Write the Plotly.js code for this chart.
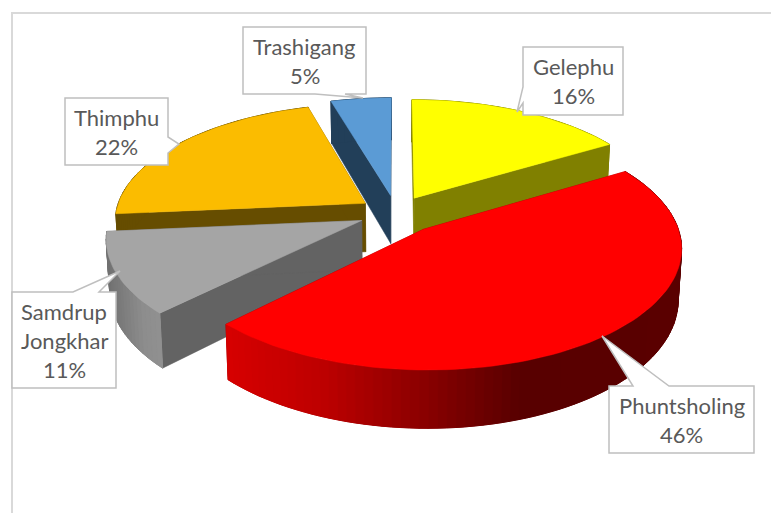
<!DOCTYPE html>
<html><head><meta charset="utf-8">
<script src="https://cdn.plot.ly/plotly-3.0.1.min.js"></script>
<style>html,body{margin:0;padding:0;background:#fff}#c{width:771px;height:513px}</style></head>
<body><div id="c"></div>
<script>
// data, clockwise from the top of the pie (labels show them rounded)
const categories = ['Gelephu', 'Phuntsholing', 'Samdrup Jongkhar', 'Thimphu', 'Trashigang'];
const values = [16.4, 46.1, 11.05, 21.95, 4.5];
const labelLines = [['Gelephu'], ['Phuntsholing'], ['Samdrup', 'Jongkhar'], ['Thimphu'], ['Trashigang']];
const topColors = ['#ffff00', '#ff0000', '#a5a5a5', '#fbbc00', '#5b9bd5'];
const wallColors = ['#808000', '#8a0000', '#636363', '#664d00', '#223f59'];
const explosion = [0.15, 0.175, 0.15, 0.15, 0.155];
const drawOrder = [4, 0, 3, 2, 1];
// rim shading: colour stops along the screen x for the slices that show a shaded rim
const rimStops = {
  1: [[228, [214, 0, 0]], [320, [190, 0, 0]], [400, [150, 0, 0]], [520, [88, 0, 0]], [690, [90, 0, 0]]],
  2: [[105, [112, 112, 112]], [140, [140, 140, 140]], [165, [146, 146, 146]]]
};

// projection of the tilted pie
const CX = 396, CY = 213, F = 250, G = 116, P = 0.14, H = 49;
function proj(X, Y, z) {
  const s = 1 / (1 + P * Y);
  const k = 1 - 0.012 * z;
  return [CX + F * X * s * k, CY - G * Y * s + H * z * s];
}
function poly(pts, color, w) {
  const xs = pts.map(p => p[0]), ys = pts.map(p => p[1]);
  xs.push(xs[0]); ys.push(ys[0]);
  return {x: xs, y: ys, type: 'scatter', mode: 'lines', fill: 'toself', fillcolor: color,
    line: {color: color, width: w === undefined ? 0.5 : w}, hoverinfo: 'skip', showlegend: false};
}
function rimColor(i, x) {
  const st = rimStops[i];
  if (!st) return wallColors[i];
  if (x <= st[0][0]) return 'rgb(' + st[0][1].join(',') + ')';
  for (let k = 1; k < st.length; k++) {
    if (x <= st[k][0]) {
      const t = (x - st[k - 1][0]) / (st[k][0] - st[k - 1][0]);
      return 'rgb(' + st[k][1].map((c, j) => Math.round(st[k - 1][1][j] + (c - st[k - 1][1][j]) * t)).join(',') + ')';
    }
  }
  return 'rgb(' + st[st.length - 1][1].join(',') + ')';
}
const total = values.reduce((a, b) => a + b, 0);
const starts = [];
values.reduce((acc, v, i) => { starts[i] = acc; return acc + v; }, 0);
const traces = [];
drawOrder.forEach(i => {
  const a0 = starts[i] / total * 2 * Math.PI, a1 = (starts[i] + values[i]) / total * 2 * Math.PI;
  const mid = (a0 + a1) / 2;
  const ax = explosion[i] * Math.sin(mid), ay = explosion[i] * Math.cos(mid);
  const n = Math.max(8, Math.round(values[i] * 2));
  const arc = [];
  for (let k = 0; k <= n; k++) {
    const t = a0 + (a1 - a0) * k / n;
    arc.push([ax + Math.sin(t), ay + Math.cos(t)]);
  }
  // radial walls
  [arc[0], arc[n]].forEach(e => {
    traces.push(poly([proj(ax, ay, 0), proj(e[0], e[1], 0), proj(e[0], e[1], 1), proj(ax, ay, 1)], wallColors[i]));
  });
  // outer rim: one solid base, then shaded bands that overlap their neighbours
  const base = arc.map(p => proj(p[0], p[1], 0)).concat(arc.slice().reverse().map(p => proj(p[0], p[1], 1)));
  traces.push(poly(base, rimColor(i, (base[0][0] + base[n][0]) / 2)));
  for (let k = 0; k < n; k++) {
    const p = arc[k], q = arc[k + 1];
    const a = proj(p[0], p[1], 0), b = proj(q[0], q[1], 0), c = proj(q[0], q[1], 1), d = proj(p[0], p[1], 1);
    traces.push(poly([a, b, c, d], rimColor(i, (a[0] + b[0]) / 2), 1));
  }
  // top face
  traces.push(poly([[ax, ay]].concat(arc).map(p => proj(p[0], p[1], 0)), topColors[i]));
});

// callouts: box [x0,y0,x1,y1] with a pointer
const BORDER = '#bfbfbf';
const callouts = [
  {i: 0, box: [523, 47, 623, 115], path: 'M523,47 L623,47 L623,115 L523,115 L523,103 L517,112 L523,87 Z'},
  {i: 1, box: [609, 386, 754, 453], path: 'M609,386 L633,386 L602,336 L669,386 L754,386 L754,453 L609,453 Z'},
  {i: 2, box: [12, 292, 116, 388], path: 'M12,292 L73,292 L120,271 L99,292 L116,292 L116,388 L12,388 Z'},
  {i: 3, box: [65, 98, 168, 165], path: 'M65,98 L168,98 L168,137 L179,144 L168,153 L168,165 L65,165 Z'},
  {i: 4, box: [243, 27, 366, 94], path: 'M243,27 L366,27 L366,94 L345,94 L363,98 L315,94 L243,94 Z'}
];
const LINE_GAP = 29;
const annotations = [];
const shapes = [
  {type: 'path', path: 'M12,513 L12,13 L771,13', xref: 'x', yref: 'y', line: {color: '#d9d9d9', width: 2}, layer: 'above'}
];
callouts.forEach(c => {
  shapes.push({type: 'path', path: c.path, xref: 'x', yref: 'y', fillcolor: '#ffffff',
    line: {color: BORDER, width: 1.5}, layer: 'above'});
  const lines = labelLines[c.i].concat([Math.round(values[c.i]) + '%']);
  const mx = (c.box[0] + c.box[2]) / 2, my = (c.box[1] + c.box[3]) / 2;
  lines.forEach((t, k) => {
    annotations.push({x: mx, y: my + (k - (lines.length - 1) / 2) * LINE_GAP, xref: 'x', yref: 'y', text: t,
      showarrow: false, xanchor: 'center', yanchor: 'middle',
      font: {family: 'Lato, "Open Sans", sans-serif', size: 22, color: '#595959'}});
  });
});

Plotly.newPlot('c', traces, {
  width: 771, height: 513, margin: {l: 0, r: 0, t: 0, b: 0},
  paper_bgcolor: '#ffffff', plot_bgcolor: '#ffffff', showlegend: false,
  xaxis: {range: [0, 771], visible: false, fixedrange: true},
  yaxis: {range: [513, 0], visible: false, fixedrange: true},
  shapes: shapes, annotations: annotations
}, {displayModeBar: false, staticPlot: true});
</script></body></html>
